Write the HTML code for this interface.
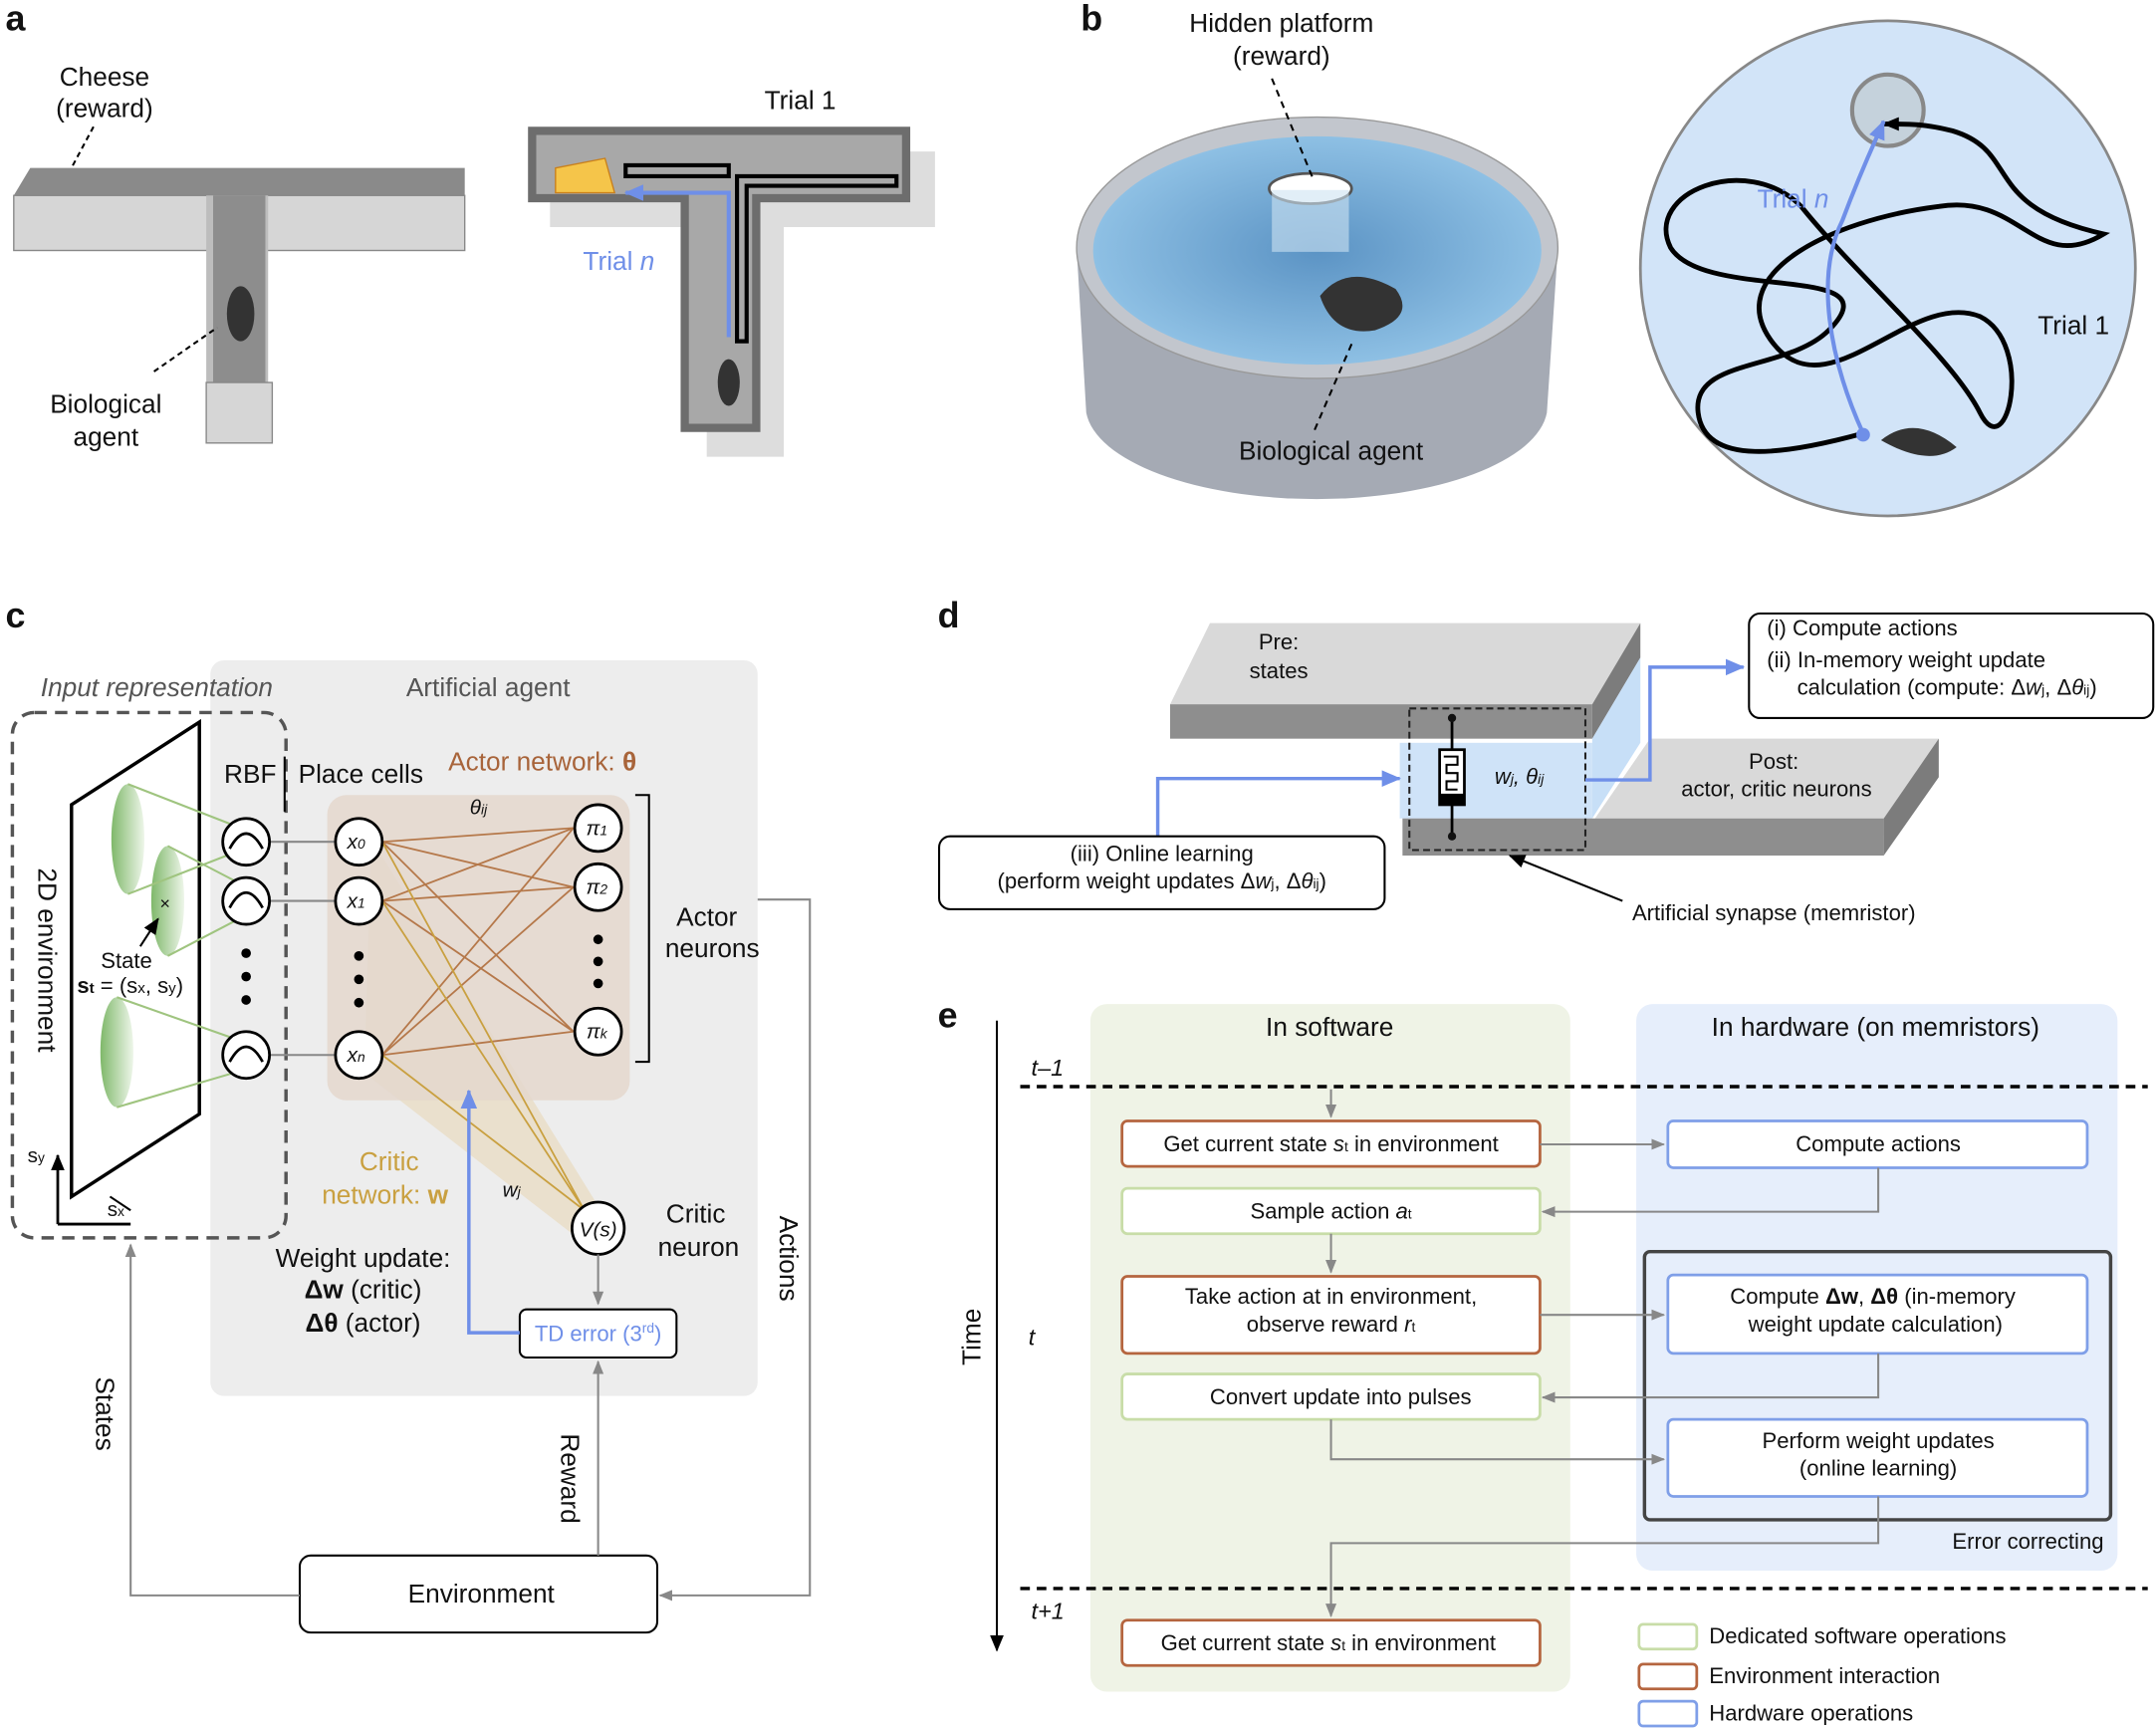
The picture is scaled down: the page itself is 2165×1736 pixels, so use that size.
<!DOCTYPE html>
<html><head><meta charset="utf-8"><style>body{margin:0;background:#fff}svg{display:block}text{font-family:"Liberation Sans",sans-serif}</style></head><body>
<svg width="2165" height="1736" viewBox="0 0 1568 1257" xmlns="http://www.w3.org/2000/svg">
<defs>
<marker id="ag" markerUnits="userSpaceOnUse" markerWidth="10" markerHeight="10" refX="9" refY="5" orient="auto"><path d="M0,1L10,5L0,9z" fill="#888"/></marker>
<marker id="ab" markerUnits="userSpaceOnUse" markerWidth="14" markerHeight="14" refX="13" refY="7" orient="auto"><path d="M0,1L14,7L0,13z" fill="#6f8fe8"/></marker>
<marker id="ak" markerUnits="userSpaceOnUse" markerWidth="12" markerHeight="12" refX="11" refY="6" orient="auto"><path d="M0,1L12,6L0,11z" fill="#000"/></marker>
<radialGradient id="pool" cx="0.5" cy="0.5" r="0.5"><stop offset="0" stop-color="#5b93c4"/><stop offset="1" stop-color="#8ec0e4"/></radialGradient>
<linearGradient id="cone" x1="0" x2="1"><stop offset="0" stop-color="#7fb86a"/><stop offset="1" stop-color="#eef6ea"/></linearGradient>
</defs>
<g font-size="19" fill="#111">
<!-- panel a -->
<text x="4" y="22" font-size="26" font-weight="bold">a</text>
<text x="76" y="62" text-anchor="middle">Cheese</text><text x="76" y="85" text-anchor="middle">(reward)</text>
<line x1="68" y1="92" x2="45" y2="135" stroke="#000" stroke-dasharray="4,3" stroke-width="1.5"/>
<polygon points="10,142 22,122 338,122 338,142" fill="#8a8a8a"/>
<rect x="10" y="142" width="328" height="40" fill="#d6d6d6" stroke="#888"/>
<polygon points="150,142 195,142 195,282 150,282" fill="#bdbdbd"/>
<rect x="155" y="142" width="38" height="140" fill="#8d8d8d"/>
<rect x="150" y="278" width="48" height="44" fill="#d6d6d6" stroke="#888"/>
<ellipse cx="175" cy="228" rx="10" ry="20" fill="#333"/>
<line x1="112" y1="270" x2="158" y2="238" stroke="#000" stroke-dasharray="4,3" stroke-width="1.5"/>
<text x="77" y="300" text-anchor="middle">Biological</text><text x="77" y="324" text-anchor="middle">agent</text>
<polygon points="400,110 680,110 680,165 570,165 570,332 514,332 514,165 400,165" fill="#ddd"/>
<polygon points="384,92 662,92 662,147 553,147 553,314 495,314 495,147 384,147" fill="#6d6d6d"/>
<polygon points="390,98 656,98 656,141 547,141 547,308 501,308 501,141 390,141" fill="#a8a8a8"/>
<path d="M530,245 V140 H455" stroke="#6f8fe8" stroke-width="3" fill="none" marker-end="url(#ab)"/>
<path d="M536,248 V128 H652 V135 H543 V248 Z M455,120 H530 V128 H455Z" fill="none" stroke="#000" stroke-width="3"/>
<polygon points="404,122 440,115 447,140 404,140" fill="#f5c54a" stroke="#c9801c"/>
<ellipse cx="530" cy="278" rx="8" ry="17" fill="#333"/>
<text x="582" y="79" text-anchor="middle">Trial 1</text>
<text x="424" y="196" fill="#6f8fe8">Trial <tspan font-style="italic">n</tspan></text>
<!-- panel b -->
<text x="786" y="22" font-size="26" font-weight="bold">b</text>
<text x="932" y="23" text-anchor="middle">Hidden platform</text><text x="932" y="47" text-anchor="middle">(reward)</text>
<path d="M783,180 L790,300 A168,68 0 0 0 1125,300 L1133,180 Z" fill="#a5aab4"/>
<ellipse cx="958" cy="180" rx="175" ry="95" fill="#c2c6cd" stroke="#999"/>
<ellipse cx="958" cy="182" rx="163" ry="83" fill="url(#pool)"/>
<ellipse cx="953" cy="137" rx="30" ry="11" fill="#fff" stroke="#555" stroke-width="2"/>
<rect x="925" y="138" width="56" height="45" fill="#cde3f2" opacity="0.6"/>
<line x1="925" y1="57" x2="955" y2="130" stroke="#000" stroke-dasharray="5,4" stroke-width="1.5"/>
<path d="M960,215 q20,-25 55,-5 q15,20 -15,30 q-30,5 -40,-25z" fill="#333"/>
<line x1="983" y1="250" x2="955" y2="315" stroke="#000" stroke-dasharray="5,4" stroke-width="1.5"/>
<text x="968" y="334" text-anchor="middle">Biological agent</text>
<circle cx="1373" cy="195" r="180" fill="#d2e4f8" stroke="#888" stroke-width="2"/>
<circle cx="1373" cy="80" r="26" fill="#c5d2dc" stroke="#888" stroke-width="3"/>
<path d="M1355,315 C1300,330 1240,340 1235,300 C1230,260 1300,270 1330,240 C1380,190 1240,220 1215,180 C1195,140 1270,110 1310,150 C1350,200 1420,260 1440,300 C1460,340 1480,250 1440,230 C1390,210 1330,300 1290,250 C1250,200 1330,160 1410,150 C1470,140 1480,200 1530,170 C1440,150 1470,110 1420,95 C1400,90 1390,90 1370,90" fill="none" stroke="#000" stroke-width="3.5" marker-end="url(#ak)"/>
<path d="M1355,315 C1330,260 1320,200 1340,160 C1355,120 1365,100 1370,88" fill="none" stroke="#6f8fe8" stroke-width="3" marker-end="url(#ab)"/>
<circle cx="1355" cy="316" r="5" fill="#6f8fe8"/>
<path d="M1368,320 q25,-20 55,5 q-20,15 -55,-5z" fill="#333"/>
<text x="1278" y="151" fill="#6f8fe8">Trial <tspan font-style="italic">n</tspan></text>
<text x="1482" y="243">Trial 1</text>
<!-- panel c -->
<text x="4" y="456" font-size="26" font-weight="bold">c</text>
<rect x="153" y="480" width="398" height="535" rx="10" fill="#ededed"/>
<text x="114" y="506" text-anchor="middle" font-style="italic" fill="#555">Input representation</text>
<text x="355" y="506" text-anchor="middle" fill="#555">Artificial agent</text>
<rect x="9" y="518" width="199" height="382" rx="16" fill="none" stroke="#555" stroke-width="2.5" stroke-dasharray="9,6"/>
<polygon points="52,585 145,525 145,810 52,870" fill="#fff" stroke="#000" stroke-width="2.5"/>
<ellipse cx="93" cy="610" rx="12" ry="40" fill="url(#cone)"/>
<ellipse cx="122" cy="655" rx="12" ry="40" fill="url(#cone)"/>
<ellipse cx="85" cy="765" rx="12" ry="40" fill="url(#cone)"/>
<g stroke="#9fc47f" stroke-width="1.5"><line x1="93" y1="570" x2="170" y2="600"/><line x1="93" y1="650" x2="170" y2="620"/><line x1="122" y1="615" x2="170" y2="640"/><line x1="122" y1="695" x2="170" y2="670"/><line x1="85" y1="725" x2="170" y2="755"/><line x1="85" y1="805" x2="170" y2="780"/></g>
<text x="120" y="661" font-size="13" text-anchor="middle">×</text>
<line x1="102" y1="688" x2="115" y2="668" stroke="#000" stroke-width="1.5" marker-end="url(#ak)"/>
<text x="92" y="704" text-anchor="middle" font-size="16">State</text>
<text x="56" y="722" font-size="16"><tspan font-weight="bold">s</tspan><tspan font-size="11" font-weight="bold">t</tspan> = (s<tspan font-size="11">x</tspan>, s<tspan font-size="11">y</tspan>)</text>
<text x="28" y="698" transform="rotate(90 28 698)" text-anchor="middle">2D environment</text>
<path d="M42,890 V840" stroke="#000" stroke-width="2" marker-end="url(#ak)"/><path d="M42,890 H95" stroke="#000" stroke-width="2"/>
<line x1="80" y1="870" x2="95" y2="880" stroke="#000" stroke-width="1.5"/>
<text x="20" y="845" font-size="15">s<tspan font-size="10">y</tspan></text><text x="78" y="884" font-size="15">s<tspan font-size="10">x</tspan></text>
<text x="163" y="569">RBF</text>
<line x1="207" y1="550" x2="207" y2="590" stroke="#000" stroke-width="1.5"/>
<text x="217" y="569">Place cells</text>
<text x="326" y="560" fill="#a8643a">Actor network: <tspan font-weight="bold">θ</tspan></text>
<polygon points="270,610 437,880 420,900 265,780" fill="#e8d7b8" opacity="0.6"/>
<rect x="238" y="578" width="220" height="222" rx="14" fill="#e4d7cd" opacity="0.85"/>
<g stroke="#b5784a" stroke-width="1.3">
<line x1="278" y1="612" x2="417" y2="602"/><line x1="278" y1="612" x2="417" y2="645"/><line x1="278" y1="612" x2="417" y2="750"/>
<line x1="278" y1="655" x2="417" y2="602"/><line x1="278" y1="655" x2="417" y2="645"/><line x1="278" y1="655" x2="417" y2="750"/>
<line x1="278" y1="767" x2="417" y2="602"/><line x1="278" y1="767" x2="417" y2="645"/><line x1="278" y1="767" x2="417" y2="750"/></g>
<g stroke="#c9a040" stroke-width="1.3"><line x1="278" y1="612" x2="425" y2="880"/><line x1="278" y1="655" x2="425" y2="880"/><line x1="278" y1="767" x2="425" y2="880"/></g>
<g stroke="#888" stroke-width="1.5"><line x1="197" y1="612" x2="243" y2="612"/><line x1="197" y1="655" x2="243" y2="655"/><line x1="197" y1="767" x2="243" y2="767"/></g>
<g fill="#fff" stroke="#000" stroke-width="2">
<circle cx="179" cy="612" r="17"/><circle cx="179" cy="655" r="17"/><circle cx="179" cy="767" r="17"/>
<circle cx="261" cy="612" r="17"/><circle cx="261" cy="655" r="17"/><circle cx="261" cy="767" r="17"/>
<circle cx="435" cy="602" r="17"/><circle cx="435" cy="645" r="17"/><circle cx="435" cy="750" r="17"/>
<circle cx="435" cy="893" r="19"/></g>
<g fill="none" stroke="#000" stroke-width="2"><path d="M167,617 q12,-22 24,0"/><path d="M167,660 q12,-22 24,0"/><path d="M167,772 q12,-22 24,0"/></g>
<g font-size="15" font-style="italic" text-anchor="middle"><text x="259" y="617">x<tspan font-size="10">0</tspan></text><text x="259" y="660">x<tspan font-size="10">1</tspan></text><text x="259" y="772">x<tspan font-size="10">n</tspan></text>
<text x="434" y="607">π<tspan font-size="10">1</tspan></text><text x="434" y="650">π<tspan font-size="10">2</tspan></text><text x="434" y="755">π<tspan font-size="10">k</tspan></text>
<text x="435" y="899">V(s)</text><text x="348" y="592">θ<tspan font-size="10">ij</tspan></text><text x="372" y="870">w<tspan font-size="10">j</tspan></text></g>
<g fill="#000"><circle cx="179" cy="693" r="3.5"/><circle cx="179" cy="710" r="3.5"/><circle cx="179" cy="727" r="3.5"/><circle cx="261" cy="695" r="3.5"/><circle cx="261" cy="712" r="3.5"/><circle cx="261" cy="729" r="3.5"/><circle cx="435" cy="683" r="3.5"/><circle cx="435" cy="699" r="3.5"/><circle cx="435" cy="715" r="3.5"/></g>
<path d="M462,578 H472 V772 H462" fill="none" stroke="#000" stroke-width="1.5"/>
<text x="514" y="673" text-anchor="middle">Actor</text><text x="518" y="696" text-anchor="middle">neurons</text>
<text x="283" y="851" text-anchor="middle" fill="#c9a040">Critic</text><text x="280" y="875" text-anchor="middle" fill="#c9a040">network: <tspan font-weight="bold">w</tspan></text>
<text x="506" y="889" text-anchor="middle">Critic</text><text x="508" y="913" text-anchor="middle">neuron</text>
<text x="264" y="921" text-anchor="middle">Weight update:</text>
<text x="264" y="944" text-anchor="middle"><tspan font-weight="bold">Δw</tspan> (critic)</text>
<text x="264" y="968" text-anchor="middle"><tspan font-weight="bold">Δθ</tspan> (actor)</text>
<line x1="435" y1="912" x2="435" y2="948" stroke="#888" stroke-width="1.5" marker-end="url(#ag)"/>
<rect x="378" y="952" width="114" height="35" rx="5" fill="#fff" stroke="#000" stroke-width="1.5"/>
<text x="435" y="975" text-anchor="middle" font-size="16" fill="#6f8fe8">TD error (3<tspan font-size="10" dy="-6">rd</tspan><tspan dy="6">)</tspan></text>
<path d="M378,969 H341 V793" stroke="#6f8fe8" stroke-width="2.5" fill="none" marker-end="url(#ab)"/>
<rect x="218" y="1131" width="260" height="56" rx="8" fill="#fff" stroke="#000" stroke-width="1.5"/>
<text x="350" y="1165" text-anchor="middle">Environment</text>
<path d="M435,1131 V990" stroke="#888" stroke-width="1.5" marker-end="url(#ag)"/>
<text x="408" y="1075" transform="rotate(90 408 1075)" text-anchor="middle">Reward</text>
<path d="M218,1160 H95 V905" stroke="#888" stroke-width="1.5" fill="none" marker-end="url(#ag)"/>
<text x="70" y="1028" transform="rotate(90 70 1028)" text-anchor="middle">States</text>
<path d="M551,654 H589 V1160 H480" stroke="#888" stroke-width="1.5" fill="none" marker-end="url(#ag)"/>
<text x="567" y="915" transform="rotate(90 567 915)" text-anchor="middle">Actions</text>
<!-- panel d -->
<text x="682" y="456" font-size="26" font-weight="bold">d</text>
<polygon points="851,512 880,453 1193,453 1158,512" fill="#d9d9d9"/>
<polygon points="1158,512 1193,453 1193,478 1158,537" fill="#7c7c7c"/>
<rect x="851" y="512" width="307" height="25" fill="#8e8e8e"/>
<polygon points="1158,537 1193,478 1193,540 1158,595" fill="#b9d7f5" opacity="0.8"/>
<polygon points="1020,595 1160,595 1200,537 1410,537 1370,595" fill="#d9d9d9"/>
<rect x="1018" y="540" width="140" height="55" fill="#cfe3f8"/>
<rect x="1020" y="595" width="350" height="27" fill="#8e8e8e"/>
<polygon points="1370,622 1410,565 1410,537 1370,595" fill="#7c7c7c"/>
<text x="930" y="472" text-anchor="middle" font-size="16">Pre:</text><text x="930" y="493" text-anchor="middle" font-size="16">states</text>
<text x="1290" y="559" text-anchor="middle" font-size="16">Post:</text><text x="1292" y="579" text-anchor="middle" font-size="16">actor, critic neurons</text>
<rect x="1025" y="515" width="128" height="103" fill="none" stroke="#222" stroke-width="1.5" stroke-dasharray="5,3"/>
<line x1="1056" y1="522" x2="1056" y2="610" stroke="#000" stroke-width="2"/>
<circle cx="1056" cy="522" r="3"/><circle cx="1056" cy="608" r="3"/>
<rect x="1047" y="545" width="18" height="40" fill="#fff" stroke="#000" stroke-width="2"/>
<path d="M1050,550 h10 v6 h-8 v6 h8 v6 h-8 v6 h8" fill="none" stroke="#000" stroke-width="1.5"/>
<rect x="1047" y="577" width="18" height="8" fill="#000"/>
<text x="1087" y="570" font-size="16" font-style="italic">w<tspan font-size="10">j</tspan>, θ<tspan font-size="10">ij</tspan></text>
<path d="M1153,567 H1200 V485 H1268" stroke="#6f8fe8" stroke-width="2.5" fill="none" marker-end="url(#ab)"/>
<rect x="1272" y="446" width="294" height="76" rx="8" fill="#fff" stroke="#000" stroke-width="1.5"/>
<text x="1285" y="462" font-size="16">(i) Compute actions</text>
<text x="1285" y="485" font-size="16">(ii) In-memory weight update</text>
<text x="1307" y="505" font-size="16">calculation (compute: Δ<tspan font-style="italic">w</tspan><tspan font-size="10">j</tspan>, Δ<tspan font-style="italic">θ</tspan><tspan font-size="10">ij</tspan>)</text>
<path d="M842,608 V566 H1018" stroke="#6f8fe8" stroke-width="2.5" fill="none" marker-end="url(#ab)"/>
<rect x="683" y="608" width="324" height="53" rx="8" fill="#fff" stroke="#000" stroke-width="1.5"/>
<text x="845" y="626" text-anchor="middle" font-size="16">(iii) Online learning</text>
<text x="845" y="646" text-anchor="middle" font-size="16">(perform weight updates Δ<tspan font-style="italic">w</tspan><tspan font-size="10">j</tspan>, Δ<tspan font-style="italic">θ</tspan><tspan font-size="10">ij</tspan>)</text>
<line x1="1180" y1="655" x2="1098" y2="622" stroke="#000" stroke-width="1.5" marker-end="url(#ak)"/>
<text x="1187" y="669" font-size="16">Artificial synapse (memristor)</text>
<!-- panel e -->
<text x="682" y="747" font-size="26" font-weight="bold">e</text>
<rect x="793" y="730" width="349" height="500" rx="12" fill="#eff3e6"/>
<rect x="1190" y="730" width="350" height="412" rx="12" fill="#e6eefb"/>
<text x="967" y="753" text-anchor="middle">In software</text>
<text x="1364" y="753" text-anchor="middle">In hardware (on memristors)</text>
<line x1="725" y1="742" x2="725" y2="1200" stroke="#000" stroke-width="1.5" marker-end="url(#ak)"/>
<text x="713" y="972" transform="rotate(-90 713 972)" text-anchor="middle">Time</text>
<line x1="742" y1="790" x2="1562" y2="790" stroke="#000" stroke-width="2.5" stroke-dasharray="7,5"/>
<line x1="742" y1="1155" x2="1562" y2="1155" stroke="#000" stroke-width="2.5" stroke-dasharray="7,5"/>
<text x="750" y="782" font-style="italic" font-size="17">t–1</text>
<text x="748" y="978" font-style="italic" font-size="17">t</text>
<text x="750" y="1177" font-style="italic" font-size="17">t+1</text>
<rect x="1196" y="910" width="339" height="195" rx="4" fill="none" stroke="#444" stroke-width="2.5"/>
<g fill="#fff" stroke-width="2">
<rect x="816" y="815" width="304" height="33" rx="4" stroke="#b5653f"/>
<rect x="816" y="864" width="304" height="33" rx="4" stroke="#c8dda8"/>
<rect x="816" y="928" width="304" height="56" rx="4" stroke="#b5653f"/>
<rect x="816" y="999" width="304" height="33" rx="4" stroke="#c8dda8"/>
<rect x="816" y="1178" width="304" height="33" rx="4" stroke="#b5653f"/>
<rect x="1213" y="815" width="305" height="34" rx="4" stroke="#7f9fe8"/>
<rect x="1213" y="927" width="305" height="57" rx="4" stroke="#7f9fe8"/>
<rect x="1213" y="1032" width="305" height="56" rx="4" stroke="#7f9fe8"/>
</g>
<g font-size="16" text-anchor="middle">
<text x="968" y="837">Get current state <tspan font-style="italic">s</tspan><tspan font-size="10">t</tspan> in environment</text>
<text x="968" y="886">Sample action <tspan font-style="italic">a</tspan><tspan font-size="10">t</tspan></text>
<text x="968" y="948">Take action at in environment,</text>
<text x="968" y="968">observe reward <tspan font-style="italic">r</tspan><tspan font-size="10">t</tspan></text>
<text x="975" y="1021">Convert update into pulses</text>
<text x="966" y="1200">Get current state <tspan font-style="italic">s</tspan><tspan font-size="10">t</tspan> in environment</text>
<text x="1366" y="837">Compute actions</text>
<text x="1362" y="948">Compute <tspan font-weight="bold">Δw</tspan>, <tspan font-weight="bold">Δθ</tspan> (in-memory</text>
<text x="1364" y="968">weight update calculation)</text>
<text x="1366" y="1053">Perform weight updates</text>
<text x="1366" y="1073">(online learning)</text>
</g>
<text x="1530" y="1126" text-anchor="end" font-size="16">Error correcting</text>
<g stroke="#888" stroke-width="1.5" fill="none">
<path d="M968,792 V812" marker-end="url(#ag)"/>
<path d="M1120,832 H1210" marker-end="url(#ag)"/>
<path d="M1366,849 V881 H1122" marker-end="url(#ag)"/>
<path d="M968,897 V925" marker-end="url(#ag)"/>
<path d="M1120,956 H1210" marker-end="url(#ag)"/>
<path d="M1366,984 V1016 H1122" marker-end="url(#ag)"/>
<path d="M968,1032 V1061 H1210" marker-end="url(#ag)"/>
<path d="M1366,1088 V1122 H968 V1175" marker-end="url(#ag)"/>
</g>
<rect x="1192" y="1181" width="42" height="18" rx="3" fill="#fff" stroke="#c8dda8" stroke-width="2"/>
<rect x="1192" y="1210" width="42" height="18" rx="3" fill="#fff" stroke="#b5653f" stroke-width="2"/>
<rect x="1192" y="1237" width="42" height="18" rx="3" fill="#fff" stroke="#7f9fe8" stroke-width="2"/>
<text x="1243" y="1195" font-size="16">Dedicated software operations</text>
<text x="1243" y="1224" font-size="16">Environment interaction</text>
<text x="1243" y="1251" font-size="16">Hardware operations</text>
</g>
</svg>
</body></html>
